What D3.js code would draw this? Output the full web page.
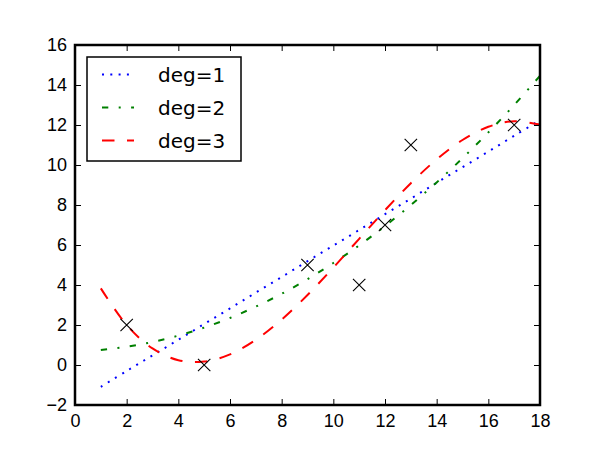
<!DOCTYPE html>
<meta charset="utf-8">
<style>
  body { margin: 0; background: #fff; }
  svg { display: block; font-family: "DejaVu Sans", sans-serif; }
  .axis text { font-size: 18px; fill: #000; }
  .axis line { stroke: #000; stroke-width: 1; }
  .axis path { display: none; }
  .legend text { font-size: 20px; fill: #000; }
</style>
<svg width="600" height="450"></svg>
<script src="https://cdnjs.cloudflare.com/ajax/libs/d3/7.8.5/d3.min.js"></script>
<script>
  // samples of the three fitted curves, x = 1..18
  var fitX = [1, 2, 3, 4, 5, 6, 7, 8, 9, 10, 11, 12, 13, 14, 15, 16, 17, 18];
  var deg1 = [-1.09, -0.30, 0.48, 1.26, 2.05, 2.83, 3.62, 4.40, 5.19, 5.97, 6.75, 7.54, 8.32, 9.11, 9.89, 10.67, 11.46, 12.24];
  var deg2 = [0.75, 0.91, 1.15, 1.47, 1.87, 2.35, 2.92, 3.56, 4.29, 5.10, 5.98, 6.95, 8.00, 9.13, 10.34, 11.63, 13.00, 14.46];
  var deg3 = [3.83, 2.00, 0.83, 0.24, 0.17, 0.53, 1.26, 2.27, 3.50, 4.87, 6.31, 7.74, 9.09, 10.28, 11.25, 11.91, 12.19, 12.02];

  // observed points
  var pointX = [2, 5, 9, 11, 12, 13, 17];
  var pointY = [2, 0, 5, 4, 7, 11, 12];

  var xTicks = [0, 2, 4, 6, 8, 10, 12, 14, 16, 18];
  var yTicks = [-2, 0, 2, 4, 6, 8, 10, 12, 14, 16];

  var seriesNames = ["deg=1", "deg=2", "deg=3"];
  var seriesColors = ["#0000ff", "#008000", "#ff0000"];
  var seriesDash = ["2,6.3", "6.3,10.4,2,10.4", "12.5,12.5"];
  var seriesValues = [deg1, deg2, deg3];

  var svg = d3.select("svg"),
    margin = {top: 45, right: 60, bottom: 45, left: 75},
    width = +svg.attr("width") - margin.left - margin.right,
    height = +svg.attr("height") - margin.top - margin.bottom;

  svg.append("rect").attr("width", 600).attr("height", 450).attr("fill", "#fff");

  var x = d3.scaleLinear().domain([0, 18]).range([0, width]),
    y = d3.scaleLinear().domain([-2, 16]).range([height, 0]);

  var g = svg.append("g")
    .attr("transform", "translate(" + margin.left + "," + margin.top + ")");

  g.append("clipPath").attr("id", "clip")
    .append("rect").attr("width", width).attr("height", height);

  // fitted curves
  var line = d3.line()
    .x(function(d) { return x(d[0]); })
    .y(function(d) { return y(d[1]); })
    .curve(d3.curveCatmullRom);

  var curves = g.append("g").attr("clip-path", "url(#clip)");
  seriesValues.forEach(function(vals, i) {
    curves.append("path")
      .datum(fitX.map(function(v, j) { return [v, vals[j]]; }))
      .attr("fill", "none")
      .attr("stroke", seriesColors[i])
      .attr("stroke-width", 2)
      .attr("stroke-dasharray", seriesDash[i])
      .attr("d", line);
  });

  // x markers
  var r = 6.2;
  g.selectAll(".mark")
    .data(pointX.map(function(v, i) { return [v, pointY[i]]; }))
    .enter().append("path")
    .attr("class", "mark")
    .attr("fill", "none")
    .attr("stroke", "#000")
    .attr("stroke-width", 1.1)
    .attr("d", function(d) {
      var cx = x(d[0]), cy = y(d[1]);
      return "M" + (cx - r) + "," + (cy - r) + "L" + (cx + r) + "," + (cy + r) +
        "M" + (cx - r) + "," + (cy + r) + "L" + (cx + r) + "," + (cy - r);
    });

  // axes, ticks pointing inward on all four sides
  g.append("g")
    .attr("class", "axis")
    .attr("transform", "translate(0," + height + ")")
    .call(d3.axisBottom(x).tickValues(xTicks).tickSize(-6).tickPadding(9).tickFormat(d3.format("d")));

  g.append("g")
    .attr("class", "axis")
    .call(d3.axisLeft(y).tickValues(yTicks).tickSize(-6).tickPadding(8).tickFormat(d3.format("d")));

  g.append("g")
    .attr("class", "axis")
    .call(d3.axisTop(x).tickValues(xTicks).tickSize(-6).tickFormat(""));

  g.append("g")
    .attr("class", "axis")
    .attr("transform", "translate(" + width + ",0)")
    .call(d3.axisRight(y).tickValues(yTicks).tickSize(-6).tickFormat(""));

  g.append("rect")
    .attr("width", width)
    .attr("height", height)
    .attr("fill", "none")
    .attr("stroke", "#000")
    .attr("stroke-width", 2.5);

  // legend
  var legend = g.append("g")
    .attr("class", "legend")
    .attr("transform", "translate(12,12)");

  legend.append("rect")
    .attr("width", 154)
    .attr("height", 104)
    .attr("fill", "#fff")
    .attr("stroke", "#000")
    .attr("stroke-width", 1.5);

  seriesNames.forEach(function(name, i) {
    var row = legend.append("g").attr("transform", "translate(0," + (17.5 + i * 33) + ")");
    row.append("line")
      .attr("x1", 15).attr("x2", 47)
      .attr("stroke", seriesColors[i])
      .attr("stroke-width", 2)
      .attr("stroke-dasharray", seriesDash[i]);
    row.append("text")
      .attr("x", 71)
      .attr("dy", "0.36em")
      .text(name);
  });
</script>
